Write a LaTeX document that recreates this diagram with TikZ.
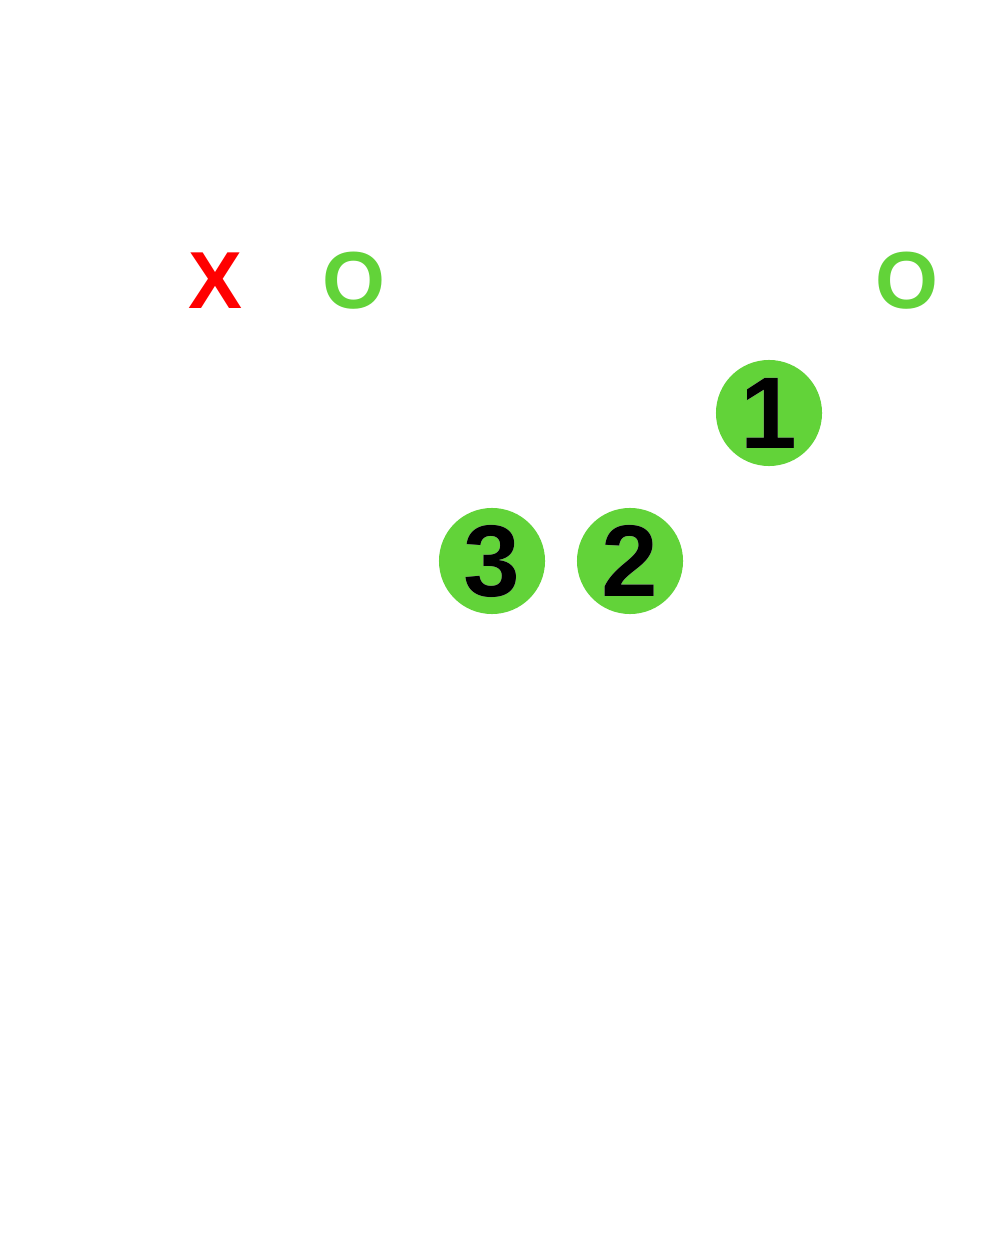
\documentclass[tikz,border=0pt]{standalone}
\usepackage{fontspec}
\setmainfont{Liberation Sans}
\usepackage[outline]{contour}
\contourlength{0.5pt}
\definecolor{grn}{RGB}{98,211,57}
\definecolor{rd}{RGB}{255,0,0}
\begin{document}
\begin{tikzpicture}[x=0.01cm,y=-0.01cm,
  letter/.style={font=\bfseries\fontsize{23}{23}\selectfont, inner sep=0pt},
  numdisc/.style={circle, fill=grn, minimum size=1.06cm, inner sep=0pt,
     font=\bfseries\fontsize{29}{29}\selectfont, text=black}]
\useasboundingbox (0,0) rectangle (1000,1240);
\node[letter, text=rd] (x1) at (215,281) {X};
\node[letter, text=grn] (o1) at (354,281) {O};
\node[letter, text=grn] (o2) at (907,281) {O};
\node[numdisc] (n1) at (769,413) {\contour{white}{1}};
\node[numdisc] (n3) at (492,561) {\contour{white}{3}};
\node[numdisc] (n2) at (630,561) {\contour{white}{2}};
\end{tikzpicture}
\end{document}
